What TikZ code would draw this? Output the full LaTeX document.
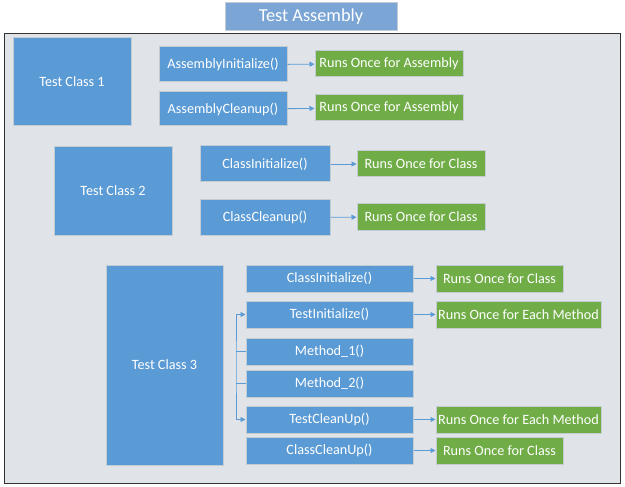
\documentclass[tikz,border=0pt]{standalone}
\usepackage{fontspec}
\setmainfont{Carlito}
\usetikzlibrary{arrows.meta}
\definecolor{bbox}{HTML}{5B9BD5}
\definecolor{gbox}{HTML}{70AD47}
\definecolor{tbox}{HTML}{7BA5D5}
\definecolor{bgray}{HTML}{E0E4E8}
\definecolor{edge}{HTML}{C3CBD3}
\tikzset{
  base/.style={rectangle, draw=edge, line width=1pt, text=white, inner sep=0pt, font=\fontsize{14.2}{16}\selectfont},
  bluebox/.style={base, fill=bbox},
  greenbox/.style={base, fill=gbox},
  conn/.style={draw=bbox, line width=0.9pt, -{Triangle[length=5pt,width=5pt]}},
  plain/.style={draw=bbox, line width=0.9pt}
}
\begin{document}
\begin{tikzpicture}[x=1pt,y=-1pt]
\useasboundingbox (0,0) rectangle (625,487);
\fill[white] (0,0) rectangle (625,487);
\node[base, fill=tbox, minimum width=172pt, minimum height=28pt, font=\fontsize{18.3}{20}\selectfont] (title) at (311,17) {Test Assembly};
\draw[fill=bgray, draw=black!80, line width=1pt] (4,34) rectangle (620,483);

\node[bluebox, minimum width=118pt, minimum height=88pt] (tc1) at (72,82) {Test Class 1};
\node[bluebox, minimum width=128pt, minimum height=35pt] (ai) at (223,64.5) {AssemblyInitialize()};
\node[greenbox, minimum width=148pt, minimum height=26pt] (r1) at (389,64) {Runs Once for Assembly};
\node[bluebox, minimum width=128pt, minimum height=34pt] (ac) at (223,109) {AssemblyCleanup()};
\node[greenbox, minimum width=148pt, minimum height=26pt] (r2) at (389,108) {Runs Once for Assembly};

\node[bluebox, minimum width=118pt, minimum height=88pt] (tc2) at (113,191) {Test Class 2};
\node[bluebox, minimum width=130pt, minimum height=36pt] (ci2) at (265,164) {ClassInitialize()};
\node[greenbox, minimum width=128pt, minimum height=26pt] (r3) at (421,164) {Runs Once for Class};
\node[bluebox, minimum width=130pt, minimum height=35pt] (cc2) at (265,217.5) {ClassCleanup()};
\node[greenbox, minimum width=128pt, minimum height=26pt] (r4) at (421,217) {Runs Once for Class};

\node[bluebox, minimum width=117pt, minimum height=200pt] (tc3) at (164.5,365) {Test Class 3};
\node[bluebox, minimum width=167pt, minimum height=27pt] (ci3) at (329.5,278.5) {ClassInitialize()};
\node[greenbox, minimum width=127pt, minimum height=27pt] (r5) at (499.5,278.5) {Runs Once for Class};
\node[bluebox, minimum width=167pt, minimum height=27pt] (ti) at (329.5,314.5) {TestInitialize()};
\node[greenbox, minimum width=165pt, minimum height=27pt] (r6) at (518.5,314.5) {Runs Once for Each Method};
\node[bluebox, minimum width=167pt, minimum height=27pt] (m1) at (329.5,351.5) {Method\_1()};
\node[bluebox, minimum width=167pt, minimum height=27pt] (m2) at (329.5,383.5) {Method\_2()};
\node[bluebox, minimum width=167pt, minimum height=27pt] (tcu) at (329.5,419.5) {TestCleanUp()};
\node[greenbox, minimum width=165pt, minimum height=27pt] (r7) at (518.5,419.5) {Runs Once for Each Method};
\node[bluebox, minimum width=167pt, minimum height=27pt] (ccu) at (329.5,450.5) {ClassCleanUp()};
\node[greenbox, minimum width=127pt, minimum height=27pt] (r8) at (499.5,450.5) {Runs Once for Class};

\draw[conn] (ai) -- (r1);
\draw[conn] (ac) -- (r2);
\draw[conn] (ci2) -- (r3);
\draw[conn] (cc2) -- (r4);
\draw[conn] (ci3) -- (r5);
\draw[conn] (ti) -- (r6);
\draw[conn] (tcu) -- (r7);
\draw[conn] (ccu) -- (r8);

\coordinate (bx) at (236,367);
\draw[plain, {Triangle[length=5pt,width=5pt]}-{Triangle[length=5pt,width=5pt]}] (ti.west) -| (bx) |- (tcu.west);
\draw[plain] (m1.west) -- (m1.west -| bx);
\draw[plain] (m2.west) -- (m2.west -| bx);
\end{tikzpicture}
\end{document}
